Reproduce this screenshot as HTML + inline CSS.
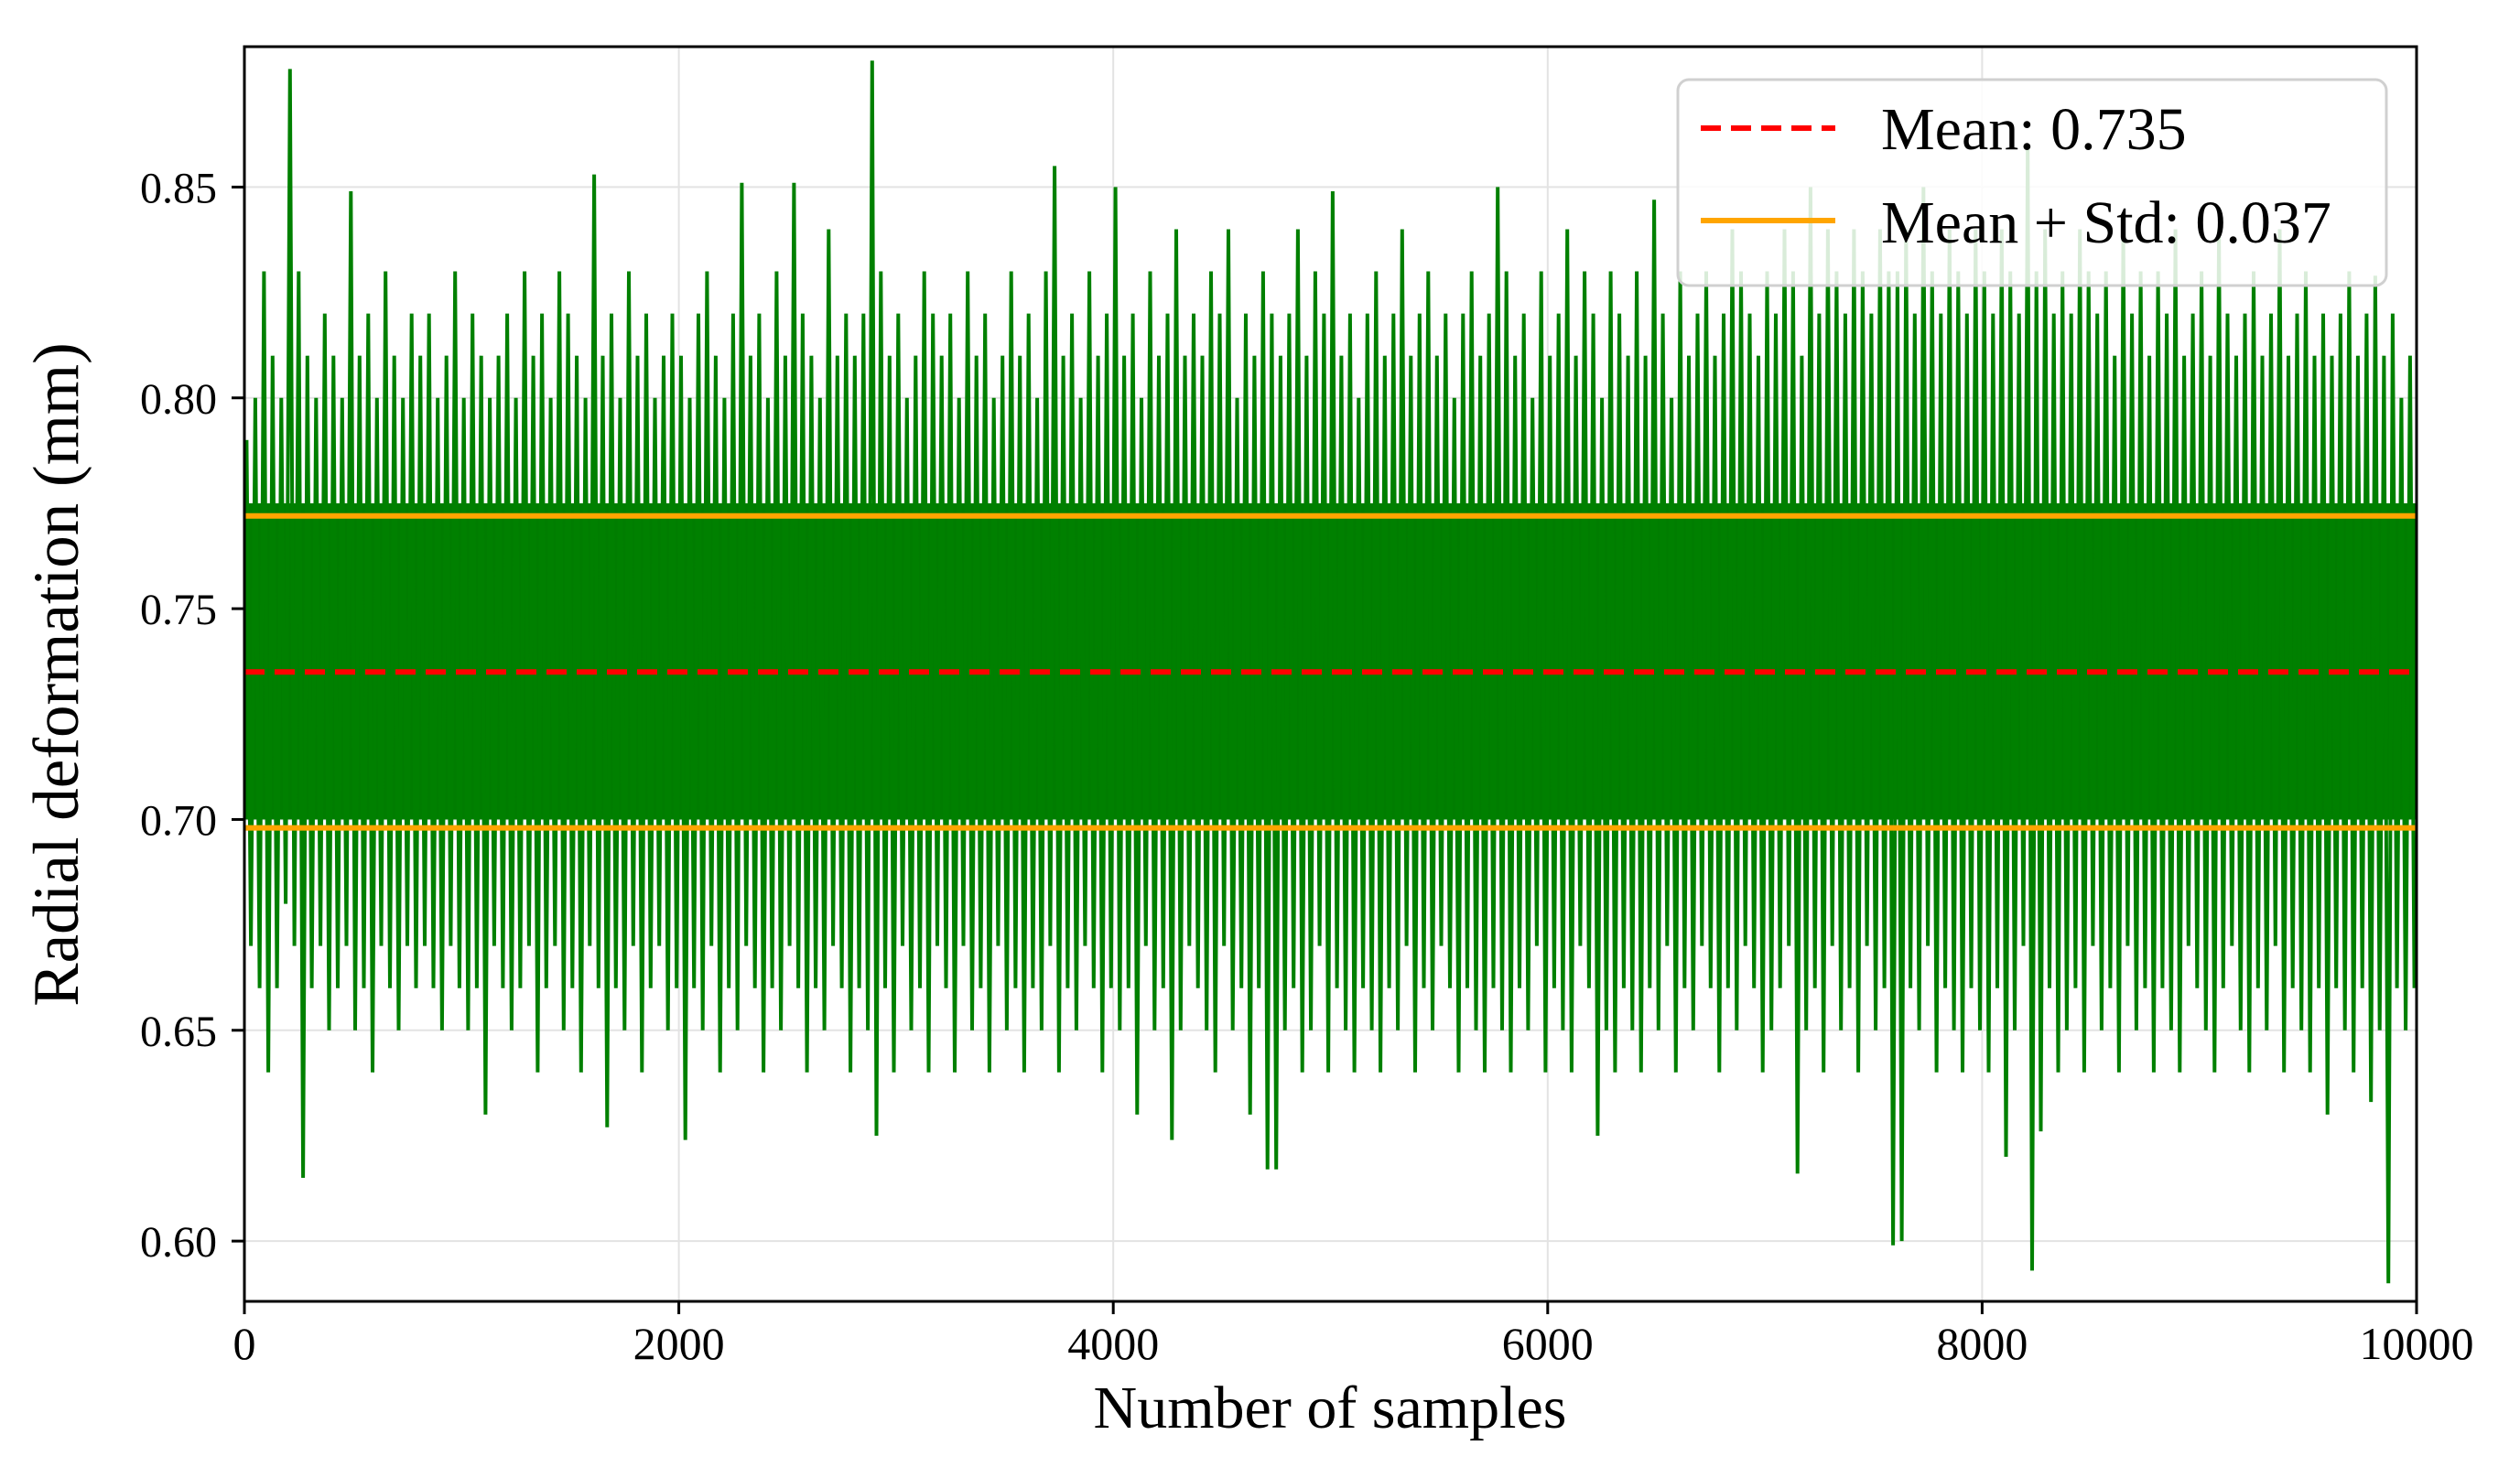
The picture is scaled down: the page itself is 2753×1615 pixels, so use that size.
<!DOCTYPE html>
<html><head><meta charset="utf-8"><style>
html,body{margin:0;padding:0;background:#fff;}
svg{display:block;font-family:"Liberation Serif","DejaVu Serif",serif;}
</style></head><body>
<svg id="chart" width="2753" height="1615" viewBox="0 0 2753 1615" xmlns="http://www.w3.org/2000/svg">
<rect x="0" y="0" width="2753" height="1615" fill="#fff"/>
<g id="grid"></g>
<g id="series"></g>
<g id="refs"></g>
<g id="axes"></g>
<text x="85" y="737" font-size="71" text-anchor="middle" transform="rotate(-90 85 737)">Radial deformation (mm)</text>
<text x="1453" y="1560" font-size="66" text-anchor="middle">Number of samples</text>
<g>
<rect x="1833" y="87" width="774" height="225" rx="12" fill="#fff" fill-opacity="0.85" stroke="#d0d0d0" stroke-width="3"/>
<line x1="1858" y1="140" x2="2005" y2="140" stroke="#ff0000" stroke-width="6" stroke-dasharray="22,11"/>
<text x="2055" y="163" font-size="66">Mean: 0.735</text>
<line x1="1858" y1="241" x2="2005" y2="241" stroke="#ffa500" stroke-width="6"/>
<text x="2055" y="265" font-size="66">Mean + Std: 0.037</text>
</g>
</svg>
<script>
const xTicks = [0, 2000, 4000, 6000, 8000, 10000];
const yTicks = [0.60, 0.65, 0.70, 0.75, 0.80, 0.85];
const yTickLabels = ["0.60", "0.65", "0.70", "0.75", "0.80", "0.85"];
const binSize = 40;
const meanValue = 0.735;
const stdValue = 0.037;
const coreHi = 0.775;
const coreLo = 0.700;
const binHi = [
0.79,0.80,0.83,0.81,0.80,0.878,0.83,0.81,0.80,0.82,
0.81,0.80,0.849,0.81,0.82,0.80,0.83,0.81,0.80,0.82,
0.81,0.82,0.80,0.81,0.83,0.80,0.82,0.81,0.80,0.81,
0.82,0.80,0.83,0.81,0.82,0.80,0.83,0.82,0.81,0.80,
0.853,0.81,0.82,0.80,0.83,0.81,0.82,0.80,0.81,0.82,
0.81,0.80,0.82,0.83,0.81,0.80,0.82,0.851,0.81,0.82,
0.80,0.83,0.81,0.851,0.82,0.81,0.80,0.84,0.81,0.82,
0.81,0.82,0.880,0.83,0.81,0.82,0.80,0.81,0.83,0.82,
0.81,0.82,0.80,0.83,0.81,0.82,0.80,0.81,0.83,0.81,
0.82,0.80,0.83,0.855,0.81,0.82,0.80,0.83,0.81,0.82,
0.850,0.81,0.82,0.80,0.83,0.81,0.82,0.84,0.81,0.82,
0.81,0.83,0.82,0.84,0.80,0.82,0.81,0.83,0.82,0.81,
0.82,0.84,0.81,0.83,0.82,0.849,0.81,0.82,0.80,0.82,
0.83,0.81,0.82,0.84,0.81,0.82,0.83,0.81,0.82,0.80,
0.82,0.83,0.81,0.82,0.850,0.83,0.81,0.82,0.80,0.83,
0.81,0.82,0.84,0.81,0.83,0.82,0.80,0.83,0.82,0.81,
0.83,0.81,0.847,0.82,0.80,0.83,0.81,0.82,0.83,0.81,
0.82,0.84,0.83,0.82,0.81,0.83,0.82,0.84,0.83,0.81,
0.85,0.82,0.84,0.83,0.82,0.84,0.83,0.82,0.84,0.83,
0.83,0.84,0.82,0.85,0.83,0.82,0.84,0.83,0.82,0.84,
0.83,0.82,0.84,0.83,0.82,0.86,0.83,0.84,0.82,0.83,
0.82,0.84,0.83,0.82,0.83,0.81,0.84,0.82,0.83,0.81,
0.83,0.82,0.84,0.81,0.82,0.83,0.81,0.84,0.82,0.81,
0.82,0.83,0.81,0.82,0.84,0.81,0.82,0.83,0.81,0.82,
0.81,0.82,0.83,0.81,0.82,0.829,0.81,0.82,0.80,0.81];
const binLo = [
0.67,0.66,0.64,0.66,0.68,0.67,0.615,0.66,0.67,0.65,
0.66,0.67,0.65,0.66,0.64,0.67,0.66,0.65,0.67,0.66,
0.67,0.66,0.65,0.67,0.66,0.65,0.66,0.63,0.67,0.66,
0.65,0.66,0.67,0.64,0.66,0.67,0.65,0.66,0.64,0.67,
0.66,0.627,0.66,0.65,0.67,0.64,0.66,0.67,0.65,0.66,
0.624,0.66,0.65,0.67,0.64,0.66,0.65,0.67,0.66,0.64,
0.66,0.65,0.67,0.66,0.64,0.66,0.65,0.67,0.66,0.64,
0.66,0.65,0.625,0.66,0.64,0.67,0.65,0.66,0.64,0.67,
0.66,0.64,0.67,0.65,0.66,0.64,0.67,0.65,0.66,0.64,
0.66,0.65,0.67,0.64,0.66,0.65,0.67,0.66,0.64,0.66,
0.65,0.66,0.63,0.67,0.65,0.66,0.624,0.65,0.67,0.66,
0.65,0.64,0.67,0.65,0.66,0.63,0.66,0.617,0.617,0.65,
0.66,0.64,0.65,0.67,0.64,0.66,0.65,0.64,0.66,0.65,
0.64,0.66,0.65,0.67,0.64,0.66,0.65,0.67,0.66,0.64,
0.66,0.65,0.64,0.66,0.65,0.64,0.66,0.65,0.67,0.64,
0.66,0.65,0.64,0.67,0.66,0.625,0.65,0.64,0.66,0.65,
0.64,0.66,0.65,0.67,0.64,0.66,0.65,0.67,0.66,0.64,
0.66,0.65,0.67,0.66,0.64,0.65,0.66,0.67,0.616,0.65,
0.66,0.64,0.67,0.65,0.66,0.64,0.67,0.65,0.66,0.599,
0.60,0.66,0.65,0.67,0.64,0.66,0.65,0.64,0.66,0.65,
0.64,0.66,0.62,0.65,0.67,0.593,0.626,0.66,0.64,0.65,
0.66,0.64,0.67,0.65,0.66,0.64,0.67,0.65,0.66,0.64,
0.66,0.65,0.64,0.67,0.66,0.65,0.64,0.66,0.67,0.65,
0.64,0.66,0.65,0.67,0.64,0.66,0.65,0.64,0.66,0.63,
0.66,0.65,0.64,0.66,0.633,0.65,0.59,0.66,0.65,0.66];

const NS = "http://www.w3.org/2000/svg";
const L = 267, R = 2640, T = 51, B = 1422;
const xMin = 0, xMax = 10000, yMin = 0.5857, yMax = 0.8833;
function sx(v){ return L + (v - xMin) / (xMax - xMin) * (R - L); }
function sy(v){ return B - (v - yMin) / (yMax - yMin) * (B - T); }
function mk(tag, attrs, parent){
  const e = document.createElementNS(NS, tag);
  for (const k in attrs) e.setAttribute(k, attrs[k]);
  parent.appendChild(e);
  return e;
}
const grid = document.getElementById('grid');
const series = document.getElementById('series');
const refs = document.getElementById('refs');
const axes = document.getElementById('axes');

xTicks.forEach(function(t){
  const g = mk('line', {x1: sx(t), x2: sx(t), y1: T, y2: B, stroke: '#e3e3e3', 'stroke-width': 2}, grid);
  
  
});
yTicks.forEach(function(t){
  const g = mk('line', {x1: L, x2: R, y1: sy(t), y2: sy(t), stroke: '#e3e3e3', 'stroke-width': 2}, grid);
  
  
});

const core = mk('rect', {x: sx(0), y: sy(coreHi), width: sx(xMax) - sx(0), height: sy(coreLo) - sy(coreHi), fill: '#007d00'}, series);



let pts = [];
for (let i = 0; i < binHi.length; i++) {
  const x0 = i * binSize;
  pts.push(sx(x0 + binSize * 0.25).toFixed(1) + ',' + sy(binHi[i]).toFixed(1));
  pts.push(sx(x0 + binSize * 0.75).toFixed(1) + ',' + sy(binLo[i]).toFixed(1));
}
const pl = mk('polyline', {points: pts.join(' '), fill: 'none', stroke: '#008000', 'stroke-width': 4, 'stroke-linejoin': 'miter'}, series);



const m = mk('line', {x1: L, x2: R, y1: sy(meanValue), y2: sy(meanValue), stroke: '#ff0000', 'stroke-width': 6, 'stroke-dasharray': '22,11'}, refs);


const u = mk('line', {x1: L, x2: R, y1: sy(meanValue + stdValue), y2: sy(meanValue + stdValue), stroke: '#ffa500', 'stroke-width': 6}, refs);


const d = mk('line', {x1: L, x2: R, y1: sy(meanValue - stdValue), y2: sy(meanValue - stdValue), stroke: '#ffa500', 'stroke-width': 6}, refs);



const frame = mk('rect', {x: L, y: T, width: R - L, height: B - T, fill: 'none', stroke: '#000', 'stroke-width': 3}, axes);



xTicks.forEach(function(t){
  const tk = mk('line', {x1: sx(t), x2: sx(t), y1: B, y2: B + 14, stroke: '#000', 'stroke-width': 3}, axes);
  
  
  const tx = mk('text', {x: sx(t), y: B + 63, 'font-size': 50, 'text-anchor': 'middle'}, axes);
  tx.textContent = String(t);
  
  
});
yTicks.forEach(function(t, i){
  const tk = mk('line', {x1: L - 14, x2: L, y1: sy(t), y2: sy(t), stroke: '#000', 'stroke-width': 3}, axes);
  
  
  const tx = mk('text', {x: L - 30, y: sy(t) + 17, 'font-size': 48, 'text-anchor': 'end'}, axes);
  tx.textContent = yTickLabels[i];
  
  
});
</script>
</body></html>
